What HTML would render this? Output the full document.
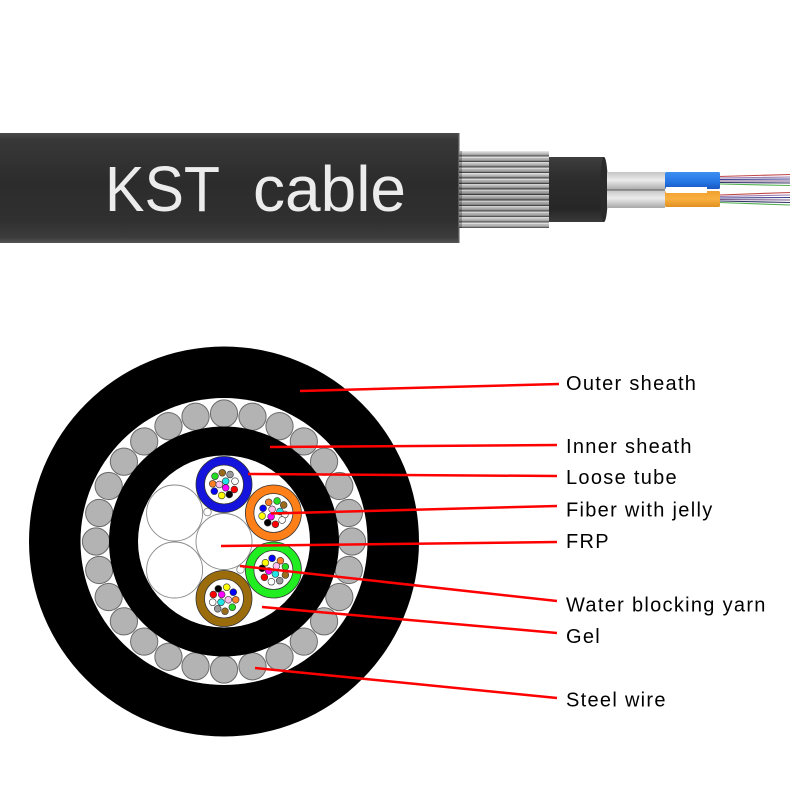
<!DOCTYPE html>
<html>
<head>
<meta charset="utf-8">
<style>
  html, body { margin:0; padding:0; background:#ffffff; }
  body { width:800px; height:800px; overflow:hidden; }
  svg { display:block; }
  .lbl { font-family:"Liberation Sans", Arial, sans-serif; font-size:20px; letter-spacing:1.3px; fill:#000; }
</style>
</head>
<body>
<svg width="800" height="800" viewBox="0 0 800 800" xmlns="http://www.w3.org/2000/svg">
  <defs>
    <linearGradient id="jacket" x1="0" y1="0" x2="0" y2="1">
      <stop offset="0" stop-color="#4a4a4a"/>
      <stop offset="0.06" stop-color="#383838"/>
      <stop offset="0.45" stop-color="#2c2c2c"/>
      <stop offset="0.8" stop-color="#303030"/>
      <stop offset="0.95" stop-color="#3c3c3c"/>
      <stop offset="1" stop-color="#555555"/>
    </linearGradient>
    <linearGradient id="innerblk" x1="0" y1="0" x2="0" y2="1">
      <stop offset="0" stop-color="#3e3e3e"/>
      <stop offset="0.3" stop-color="#2e2e2e"/>
      <stop offset="0.8" stop-color="#262626"/>
      <stop offset="1" stop-color="#3a3a3a"/>
    </linearGradient>
    <linearGradient id="wireshade" x1="0" y1="0" x2="0" y2="1">
      <stop offset="0" stop-color="#ffffff" stop-opacity="0.15"/>
      <stop offset="0.3" stop-color="#000000" stop-opacity="0"/>
      <stop offset="0.6" stop-color="#000000" stop-opacity="0.12"/>
      <stop offset="1" stop-color="#ffffff" stop-opacity="0.1"/>
    </linearGradient>
    <linearGradient id="graytube" x1="0" y1="0" x2="0" y2="1">
      <stop offset="0" stop-color="#c4c4c4"/>
      <stop offset="0.45" stop-color="#ececec"/>
      <stop offset="1" stop-color="#a8a8a8"/>
    </linearGradient>
    <linearGradient id="bluetube" x1="0" y1="0" x2="0" y2="1">
      <stop offset="0" stop-color="#3d8ff2"/>
      <stop offset="0.6" stop-color="#2474e4"/>
      <stop offset="1" stop-color="#1a58c0"/>
    </linearGradient>
    <linearGradient id="orangetube" x1="0" y1="0" x2="0" y2="1">
      <stop offset="0" stop-color="#f0a030"/>
      <stop offset="0.5" stop-color="#f8b040"/>
      <stop offset="1" stop-color="#e09020"/>
    </linearGradient>
    <pattern id="wires" x="459" y="151" width="10" height="5.5" patternUnits="userSpaceOnUse">
      <rect x="0" y="0" width="10" height="5.5" fill="#a0a0a0"/>
      <rect x="0" y="0" width="10" height="1.6" fill="#dedede"/>
      <rect x="0" y="1.6" width="10" height="1.4" fill="#b8b8b8"/>
      <rect x="0" y="4.3" width="10" height="1.2" fill="#4a4a4a"/>
    </pattern>
  </defs>

  <!-- ===== Top cable ===== -->
  <rect x="0" y="133" width="459" height="110" fill="url(#jacket)"/>
  <rect x="458" y="133" width="1.5" height="110" fill="#5a5a5a"/>
  <text x="105" y="211" font-family="Liberation Sans, Arial, sans-serif" font-size="64" fill="#ececec" textLength="115" lengthAdjust="spacingAndGlyphs">KST</text>
  <text x="253" y="211" font-family="Liberation Sans, Arial, sans-serif" font-size="64" fill="#ececec">cable</text>

  <!-- steel wire armour -->
  <rect x="459" y="151" width="90" height="77" fill="url(#wires)"/>
  <rect x="459" y="151" width="90" height="77" fill="url(#wireshade)"/>
  <rect x="459" y="151" width="3" height="77" fill="#000" opacity="0.25"/>

  <!-- inner sheath -->
  <rect x="549" y="157" width="55" height="65" fill="url(#innerblk)"/>
  <ellipse cx="604" cy="189.5" rx="4" ry="32.5" fill="#2a2a2a"/>

  <!-- fibers -->
  <g stroke-width="1.1" fill="none">
    <line x1="719" y1="176.5" x2="790" y2="174.5" stroke="#c04848"/>
    <line x1="719" y1="178" x2="790" y2="177" stroke="#9a7ab0"/>
    <line x1="719" y1="179.5" x2="790" y2="179" stroke="#404090"/>
    <line x1="719" y1="181" x2="790" y2="181" stroke="#7a5a8a"/>
    <line x1="719" y1="182.5" x2="790" y2="183" stroke="#333366"/>
    <line x1="719" y1="184" x2="790" y2="185.5" stroke="#50b050"/>
    <line x1="719" y1="195" x2="790" y2="192.5" stroke="#c04848"/>
    <line x1="719" y1="196.5" x2="790" y2="195" stroke="#9a7ab0"/>
    <line x1="719" y1="198" x2="790" y2="197.5" stroke="#404090"/>
    <line x1="719" y1="199.5" x2="790" y2="200" stroke="#7a5a8a"/>
    <line x1="719" y1="201" x2="790" y2="202.5" stroke="#333366"/>
    <line x1="719" y1="202.5" x2="790" y2="205" stroke="#50b050"/>
  </g>

  <!-- gray tubes -->
  <rect x="607" y="172" width="58" height="18" fill="url(#graytube)"/>
  <rect x="607" y="190" width="58" height="18" fill="url(#graytube)"/>
  <rect x="607" y="189.3" width="58" height="1.4" fill="#777"/>
  <!-- blue / orange loose tubes -->
  <rect x="665" y="172" width="55" height="17" rx="1.5" fill="url(#bluetube)"/>
  <rect x="665" y="191" width="55" height="16" rx="1.5" fill="url(#orangetube)"/>
  <rect x="666" y="187" width="41" height="6" fill="#ffffff"/>

  <!-- ===== Cross section ===== -->
  <g transform="translate(224,541.5)">
    <circle r="195" fill="#000"/>
    <circle r="143.5" fill="#fff"/>
    <g fill="#b3b3b3" stroke="#6a6a6a" stroke-width="1">
      <circle cx="128" cy="0" r="13.6" transform="rotate(0)"/>
      <circle cx="128" cy="0" r="13.6" transform="rotate(12.857)"/>
      <circle cx="128" cy="0" r="13.6" transform="rotate(25.714)"/>
      <circle cx="128" cy="0" r="13.6" transform="rotate(38.571)"/>
      <circle cx="128" cy="0" r="13.6" transform="rotate(51.429)"/>
      <circle cx="128" cy="0" r="13.6" transform="rotate(64.286)"/>
      <circle cx="128" cy="0" r="13.6" transform="rotate(77.143)"/>
      <circle cx="128" cy="0" r="13.6" transform="rotate(90)"/>
      <circle cx="128" cy="0" r="13.6" transform="rotate(102.857)"/>
      <circle cx="128" cy="0" r="13.6" transform="rotate(115.714)"/>
      <circle cx="128" cy="0" r="13.6" transform="rotate(128.571)"/>
      <circle cx="128" cy="0" r="13.6" transform="rotate(141.429)"/>
      <circle cx="128" cy="0" r="13.6" transform="rotate(154.286)"/>
      <circle cx="128" cy="0" r="13.6" transform="rotate(167.143)"/>
      <circle cx="128" cy="0" r="13.6" transform="rotate(180)"/>
      <circle cx="128" cy="0" r="13.6" transform="rotate(192.857)"/>
      <circle cx="128" cy="0" r="13.6" transform="rotate(205.714)"/>
      <circle cx="128" cy="0" r="13.6" transform="rotate(218.571)"/>
      <circle cx="128" cy="0" r="13.6" transform="rotate(231.429)"/>
      <circle cx="128" cy="0" r="13.6" transform="rotate(244.286)"/>
      <circle cx="128" cy="0" r="13.6" transform="rotate(257.143)"/>
      <circle cx="128" cy="0" r="13.6" transform="rotate(270)"/>
      <circle cx="128" cy="0" r="13.6" transform="rotate(282.857)"/>
      <circle cx="128" cy="0" r="13.6" transform="rotate(295.714)"/>
      <circle cx="128" cy="0" r="13.6" transform="rotate(308.571)"/>
      <circle cx="128" cy="0" r="13.6" transform="rotate(321.429)"/>
      <circle cx="128" cy="0" r="13.6" transform="rotate(334.286)"/>
      <circle cx="128" cy="0" r="13.6" transform="rotate(347.143)"/>
    </g>
    <circle r="115" fill="#000"/>
    <circle r="86" fill="#fff"/>

    <!-- FRP and fillers -->
    <g fill="#fff" stroke="#8a8a8a" stroke-width="0.9">
      <circle cx="0" cy="0" r="28"/>
      <circle cx="-49.4" cy="28.5" r="28"/>
      <circle cx="-49.4" cy="-28.5" r="28"/>
      <circle cx="-16.5" cy="-29.5" r="3.8"/>
      <circle cx="16.5" cy="28" r="3.8"/>
    </g>

    <!-- Blue tube -->
    <g transform="translate(0,-57)">
      <circle r="28" fill="#1414dc" stroke="#333" stroke-width="0.8"/>
      <circle r="19.5" fill="#fff" stroke="#333" stroke-width="0.8"/>
      <g stroke="#333" stroke-width="0.6">
        <circle cx="-9" cy="-8.3" r="3.4" fill="#22dd22"/>
        <circle cx="-1.7" cy="-11.7" r="3.4" fill="#9a6b1b"/>
        <circle cx="6" cy="-10" r="3.4" fill="#9a9a9a"/>
        <circle cx="-11.3" cy="-0.7" r="3.4" fill="#ff7f27"/>
        <circle cx="-4.7" cy="0" r="3.4" fill="#ffc0ee"/>
        <circle cx="1.7" cy="-3.3" r="3.4" fill="#22e5e5"/>
        <circle cx="11" cy="-3.3" r="3.4" fill="#ffffff"/>
        <circle cx="-9.7" cy="6.7" r="3.4" fill="#0000ff"/>
        <circle cx="1.7" cy="3.3" r="3.4" fill="#ff00ff"/>
        <circle cx="10.3" cy="5" r="3.4" fill="#ff0000"/>
        <circle cx="-2.3" cy="11" r="3.4" fill="#ffff00"/>
        <circle cx="5.3" cy="10" r="3.4" fill="#000000"/>
      </g>
    </g>

    <!-- Orange tube -->
    <g transform="translate(49.4,-28.5)">
      <circle r="28" fill="#ff8019" stroke="#333" stroke-width="0.8"/>
      <circle r="19.5" fill="#fff" stroke="#333" stroke-width="0.8"/>
      <g stroke="#333" stroke-width="0.6">
        <circle cx="-4.7" cy="-10.7" r="3.4" fill="#ff7f27"/>
        <circle cx="3.7" cy="-12" r="3.4" fill="#22dd22"/>
        <circle cx="10.3" cy="-8" r="3.4" fill="#9a6b1b"/>
        <circle cx="-10.3" cy="-4.7" r="3.4" fill="#0000ff"/>
        <circle cx="-1.3" cy="-3.7" r="3.4" fill="#ffc0ee"/>
        <circle cx="6.5" cy="-1.5" r="3.4" fill="#22e5e5"/>
        <circle cx="11.5" cy="1.5" r="3.4" fill="#ffffff"/>
        <circle cx="-11.3" cy="3" r="3.4" fill="#ffff00"/>
        <circle cx="-2.3" cy="3.7" r="3.4" fill="#ff00ff"/>
        <circle cx="8.7" cy="7" r="3.4" fill="#ffffff"/>
        <circle cx="-5.7" cy="9.7" r="3.4" fill="#000000"/>
        <circle cx="2" cy="11.3" r="3.4" fill="#ff0000"/>
      </g>
    </g>

    <!-- Green tube -->
    <g transform="translate(49.4,28.5)">
      <circle r="28" fill="#20ee20" stroke="#333" stroke-width="0.8"/>
      <circle r="19.5" fill="#fff" stroke="#333" stroke-width="0.8"/>
      <g stroke="#333" stroke-width="0.6">
        <circle cx="-8" cy="-7.3" r="3.4" fill="#ffff00"/>
        <circle cx="-1.3" cy="-11.7" r="3.4" fill="#0000ff"/>
        <circle cx="7" cy="-9.3" r="3.4" fill="#ff7f27"/>
        <circle cx="-11.3" cy="-1.7" r="3.4" fill="#000000"/>
        <circle cx="-4.7" cy="1" r="3.4" fill="#ff00ff"/>
        <circle cx="3" cy="-4" r="3.4" fill="#ffc0ee"/>
        <circle cx="12" cy="-3.3" r="3.4" fill="#22dd22"/>
        <circle cx="-9" cy="7.3" r="3.4" fill="#ff0000"/>
        <circle cx="2" cy="4" r="3.4" fill="#22e5e5"/>
        <circle cx="12" cy="5" r="3.4" fill="#9a6b1b"/>
        <circle cx="-2" cy="11.7" r="3.4" fill="#ffffff"/>
        <circle cx="6.3" cy="10.7" r="3.4" fill="#9a9a9a"/>
      </g>
    </g>

    <!-- Brown tube -->
    <g transform="translate(0,57)">
      <circle r="28" fill="#9b6c0c" stroke="#333" stroke-width="0.8"/>
      <circle r="19.5" fill="#fff" stroke="#333" stroke-width="0.8"/>
      <g stroke="#333" stroke-width="0.6">
        <circle cx="-5.7" cy="-9.7" r="3.4" fill="#000000"/>
        <circle cx="2.7" cy="-11.3" r="3.4" fill="#ffff00"/>
        <circle cx="9.3" cy="-6.3" r="3.4" fill="#0000ff"/>
        <circle cx="-10.7" cy="-4" r="3.4" fill="#ff0000"/>
        <circle cx="-2.3" cy="-4" r="3.4" fill="#ff00ff"/>
        <circle cx="4.3" cy="1.3" r="3.4" fill="#ffc0ee"/>
        <circle cx="11.7" cy="1.3" r="3.4" fill="#ff7f27"/>
        <circle cx="-11.3" cy="3.7" r="3.4" fill="#ffffff"/>
        <circle cx="-3" cy="3.7" r="3.4" fill="#22e5e5"/>
        <circle cx="-6.3" cy="10.3" r="3.4" fill="#9a9a9a"/>
        <circle cx="1" cy="12.7" r="3.4" fill="#9a6b1b"/>
        <circle cx="8.3" cy="8.7" r="3.4" fill="#22dd22"/>
      </g>
    </g>
  </g>

  <!-- Leader lines -->
  <g stroke="#ff0000" stroke-width="2.5" stroke-linecap="butt">
    <line x1="300" y1="391" x2="559" y2="384"/>
    <line x1="270" y1="447" x2="557" y2="445"/>
    <line x1="248" y1="474" x2="557" y2="476"/>
    <line x1="271" y1="513.5" x2="557" y2="506"/>
    <line x1="221" y1="546" x2="557" y2="542"/>
    <line x1="240" y1="566" x2="557" y2="601"/>
    <line x1="262" y1="607" x2="557" y2="633"/>
    <line x1="255" y1="668" x2="557" y2="698"/>
  </g>

  <!-- Labels -->
  <text class="lbl" x="566" y="390">Outer sheath</text>
  <text class="lbl" x="566" y="453">Inner sheath</text>
  <text class="lbl" x="566" y="484">Loose tube</text>
  <text class="lbl" x="566" y="516.5">Fiber with jelly</text>
  <text class="lbl" x="566" y="548">FRP</text>
  <text class="lbl" x="566" y="611.5">Water blocking yarn</text>
  <text class="lbl" x="566" y="643">Gel</text>
  <text class="lbl" x="566" y="706.5">Steel wire</text>
</svg>
</body>
</html>
